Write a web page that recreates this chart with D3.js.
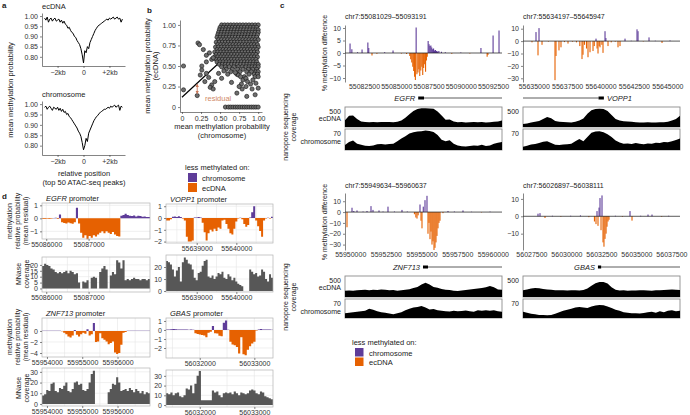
<!DOCTYPE html>
<html>
<head>
<meta charset="utf-8">
<script src="https://cdn.jsdelivr.net/npm/d3@7"></script>
<style>
  body { margin: 0; background: #fff; }
  svg { font-family: "Liberation Sans", Arial, sans-serif; font-size: 7px; }
</style>
</head>
<body>
<svg id="fig" width="690" height="415"></svg>
<script>
// ---------------- data ----------------

// a: mean methylation around top 50 ATAC peaks, 100 bp bins from -3 kb to +3 kb
const aBinStart = -3000, aBinStep = 100;
const aEcdna = [0.99,0.98,0.995,0.97,0.985,0.99,0.975,0.985,0.99,0.975,0.98,0.985,0.97,0.98,0.965,0.975,0.96,0.955,0.94,0.945,
  0.93,0.92,0.915,0.90,0.895,0.88,0.87,0.86,0.84,0.81,0.77,0.83,0.82,0.85,0.84,0.87,0.885,0.90,0.915,0.93,
  0.94,0.95,0.955,0.96,0.965,0.97,0.975,0.98,0.985,0.98,0.99,0.985,0.99,0.995,0.985,0.99,0.995,0.985,0.99,0.97,0.985];
const aChrom = [0.985,0.99,0.975,0.985,0.99,0.98,0.97,0.985,0.98,0.975,0.985,0.97,0.98,0.965,0.975,0.96,0.965,0.95,0.955,0.94,
  0.935,0.925,0.915,0.905,0.895,0.885,0.87,0.86,0.845,0.815,0.78,0.80,0.835,0.82,0.86,0.875,0.89,0.905,0.92,0.93,
  0.94,0.945,0.955,0.96,0.965,0.97,0.975,0.975,0.98,0.985,0.98,0.99,0.985,0.99,0.995,0.985,0.99,0.995,0.97,0.99,0.985];
const aXTicks = [-2000, 0, 2000];
const aXLabels = ['\u22122kb', '0', '+2kb'];
const aYTicks = [0.80, 0.85, 0.90, 0.95, 1.00];

// b: per-region mean methylation, chromosome (x) vs ecDNA (y)
const bCloudRows = [
  [1.00, [0.52,0.56,0.60,0.64,0.68,0.72,0.76,0.80,0.84,0.88,0.92,0.96,1.00]],
  [0.97, [0.50,0.54,0.58,0.62,0.66,0.70,0.74,0.78,0.82,0.86,0.90,0.94,0.98]],
  [0.94, [0.49,0.53,0.57,0.61,0.65,0.69,0.73,0.77,0.81,0.85,0.89,0.93,0.97,1.00]],
  [0.91, [0.48,0.52,0.56,0.60,0.64,0.68,0.72,0.76,0.80,0.84,0.88,0.92,0.96,1.00]],
  [0.88, [0.47,0.51,0.55,0.59,0.63,0.67,0.71,0.75,0.79,0.83,0.87,0.91,0.95,0.99]],
  [0.85, [0.46,0.50,0.54,0.58,0.62,0.66,0.70,0.74,0.78,0.82,0.86,0.90,0.94,0.98]],
  [0.82, [0.48,0.52,0.56,0.60,0.64,0.68,0.72,0.76,0.80,0.84,0.88,0.92,0.96,1.00]],
  [0.79, [0.45,0.49,0.53,0.57,0.61,0.65,0.69,0.73,0.77,0.81,0.85,0.89,0.93,0.97]],
  [0.76, [0.47,0.51,0.55,0.59,0.63,0.67,0.71,0.75,0.79,0.83,0.87,0.91,0.95,0.99]],
  [0.73, [0.44,0.48,0.52,0.56,0.60,0.64,0.68,0.72,0.76,0.80,0.84,0.88,0.92,0.96,1.00]],
  [0.70, [0.46,0.50,0.54,0.58,0.62,0.66,0.70,0.74,0.78,0.82,0.86,0.90,0.94,0.98]],
  [0.67, [0.43,0.47,0.51,0.55,0.59,0.63,0.67,0.71,0.75,0.79,0.83,0.87,0.91,0.95,0.99]],
  [0.64, [0.45,0.49,0.53,0.57,0.61,0.65,0.69,0.73,0.77,0.81,0.85,0.89,0.93,0.97]],
  [0.61, [0.43,0.47,0.51,0.55,0.59,0.63,0.67,0.71,0.75,0.79,0.83,0.87,0.91,0.95,0.99]],
  [0.58, [0.45,0.49,0.53,0.57,0.61,0.65,0.69,0.73,0.77,0.81,0.85,0.89,0.93,0.97]],
  [0.55, [0.46,0.50,0.54,0.58,0.62,0.66,0.70,0.74,0.78,0.82,0.86,0.90,0.94,0.98]],
  [0.52, [0.49,0.53,0.57,0.61,0.65,0.69,0.73,0.77,0.81,0.85,0.89,0.93,0.97,1.00]],
  [0.49, [0.52,0.57,0.62,0.68,0.74,0.79,0.84,0.88,0.92,0.96,1.00]],
  [0.46, [0.58,0.66,0.73,0.80,0.87,0.93,0.98]],
  [0.43, [0.64,0.76,0.85,0.91,0.97,1.00]],
  [0.40, [0.72,0.88,0.95,0.99]],
  [0.37, [0.82,0.96,1.00]]
];
const bScatter = [[0.02,0.50],[0.02,0.21],[0.20,0.14],[0.21,0.78],[0.23,0.76],[0.28,0.70],[0.32,0.63],[0.32,0.55],
  [0.26,0.50],[0.26,0.45],[0.32,0.41],[0.24,0.39],[0.35,0.36],[0.30,0.31],[0.39,0.27],[0.37,0.24],[0.41,0.22],
  [0.43,0.31],[0.48,0.41],[0.39,0.58],[0.41,0.60],[0.36,0.66],[0.65,0.30],[0.74,0.39],[0.77,0.37],[0.80,0.33],
  [0.84,0.35],[0.78,0.28],[0.86,0.31],[0.84,0.25],[0.90,0.28],[0.92,0.22],[0.79,0.22],[0.75,0.25],[0.72,0.17],
  [0.85,0.13],[0.96,0.15],[1.00,0.23],[0.93,0.33],[0.97,0.29],[0.60,0.40],[0.55,0.44],[0.70,0.42],[0.52,0.35],
  [0.57,0],[0.61,0],[0.64,0],[0.67,0],[0.70,0],[0.73,0],[0.76,0],[0.79,0],[0.82,0],[0.85,0],[0.88,0],[0.91,0],
  [0.94,0],[0.97,0],[1.00,0]];
const bFit = [[0, 0.12], [1, 0.98]];
const bResidual = { x: 0.20, observed: 0.14, fitted: 0.29 };
const bTicks = [0, 0.25, 0.50, 0.75, 1.00];

// c: % methylation difference tracks and nanopore coverage
const cTitles = ['chr7:55081029\u201355093191', 'chr7:55634197\u201355645947', 'chr7:55949634\u201355960637', 'chr7:56026897\u201356038111'];
const cStart = [55081029, 55634197, 55949634, 56026897];
const cEnd = [55093191, 55645947, 55960637, 56038111];
const cXTicks = [
  [55082500, 55085000, 55087500, 55090000, 55092500],
  [55635000, 55637500, 55640000, 55642500, 55645000],
  [55950000, 55952500, 55955000, 55957500, 55960000],
  [56027500, 56030000, 56032500, 56035000, 56037500]];
const cYTicks = [[-10,-5,0,5,10], [-30,-20,-10,0,10], [-30,-20,-10,0,10], [-10,0,10]];
const cYDomain = [[-11.6, 11.2], [-33, 13], [-35, 17.6], [-19.4, 13.4]];
const cGenes = ['EGFR', 'VOPP1', 'ZNF713', 'GBAS'];
const cGeneTss = [[55086700, 55087150], [55639850, 55640250], [55955100, 55955450], [56032250, 56032480]];
const cGeneBodyRight = [true, false, true, true];

const cMethEGFR = [[55081420,3.8],[55081560,1.5],[55082000,0.3],[55082350,1.4],[55082800,4.2],[55082870,2],[55083120,-1.0],
  [55083500,-0.3],[55084100,0.3],[55084750,1.0],[55085400,-0.2],[55085800,-0.4],[55086050,-1.2],[55086120,-2.5],
  [55086200,-3.8],[55086280,-5.5],[55086350,-7.2],[55086420,-9.5],[55086480,-10.8],[55086540,10.2],[55086600,-8.5],
  [55086680,-7.8],[55086750,-6.5],[55086820,-9.2],[55086900,-7.0],[55086980,-5.5],[55087050,-8.8],[55087120,-6.0],
  [55087200,-4.5],[55087270,-7.5],[55087340,-3.0],[55087400,-1.5],[55087470,4.8],[55087540,3.5],[55087610,2.8],
  [55087680,3.0],[55087750,2.2],[55087820,1.5],[55087890,1.8],[55087960,1.0],[55088040,1.2],[55088120,0.8],
  [55088200,0.6],[55088300,0.8],[55088500,0.5],[55088800,0.3],[55089300,-0.3],[55090000,0.2],[55090700,-0.2],
  [55091560,2.0],[55092040,-1.5],[55092100,-0.8],[55092500,7.0],[55092960,9.0]];
const cMethVOPP1 = [[55634870,-1.0],[55635170,7.3],[55635320,-11.5],[55635395,10.5],[55635620,-3.0],[55636100,-0.4],
  [55636592,-31.5],[55636667,-12.0],[55636890,-7.5],[55637040,-5.0],[55637300,-0.8],[55637565,-2.0],[55637900,-0.5],
  [55638200,-1.0],[55638450,-4],[55638613,-14.5],[55638688,-11.0],[55638800,-3],[55638950,-6],[55639062,-13.0],
  [55639212,-9.0],[55639437,-8.0],[55639530,-4],[55639661,2.0],[55639740,-6.0],[55639811,-10.0],[55639900,-4],
  [55639960,-5.0],[55640100,-3],[55640185,-9.5],[55640335,8.0],[55640400,2.5],[55640559,-4.0],[55640800,-1.0],
  [55641100,-0.5],[55641308,-5.0],[55641457,-4.0],[55641832,2.0],[55642300,0.3],[55642730,9.5],[55642805,8.0],
  [55643200,-0.3],[55643628,3.0],[55644100,0.3],[55644601,-1.5],[55645200,0.5]];
const cMethZNF713 = [[55949774,-14],[55950125,4],[55950250,1],[55950475,1.5],[55950900,0.5],[55951176,1],[55951456,5.5],
  [55951596,2],[55952017,1.5],[55952300,0.5],[55952647,5],[55953100,0.5],[55953628,2],[55954000,0.5],[55954500,-2],
  [55954600,-5],[55954680,-6],[55954760,-3],[55954890,7],[55954960,-8],[55955030,-15],[55955120,5],[55955240,11],
  [55955380,15],[55955450,-20],[55955520,-10],[55955591,-25],[55955660,-18],[55955731,-30],[55955800,-27],
  [55955871,-35],[55955941,-33],[55956011,-28],[55956080,-22],[55956151,-15],[55956220,-10],[55956291,-8],
  [55956500,-1],[55956852,1],[55957300,0.5],[55957903,1.5],[55958500,0.3],[55959200,-0.3],[55959800,0.4]];
const cMethGBAS = [[56027968,1.5],[56028111,1.8],[56028468,-1],[56029000,0.3],[56029600,-0.3],[56030300,0.3],[56031000,0.5],
  [56031600,-0.5],[56032000,-3],[56032111,-4.5],[56032183,3],[56032254,-5.5],[56032330,5],[56032397,10.5],
  [56032470,-8],[56032540,12],[56032611,-15],[56032680,-17.5],[56032754,-13],[56032830,-10],[56032897,-6],
  [56032970,-3],[56033040,-2],[56033500,0.3],[56034000,-0.3],[56034540,3],[56034683,-2.5],[56035300,0.3],
  [56035826,1],[56036111,1],[56036800,-0.3],[56037300,0.3]];

// coverage, 40 equal bins across each region
const cCovEcdnaEGFR = [170,280,285,200,140,125,120,125,118,122,128,122,120,130,160,230,320,400,450,470,
  470,465,455,390,290,180,190,140,120,125,115,118,122,120,128,115,120,130,140,160];
const cCovChromEGFR = [17,28,33,22,18,15,14,16,20,21,19,21,22,30,40,48,57,62,64,65,
  68,66,63,52,36,30,34,22,16,13,12,14,16,15,18,14,16,22,25,28];
const cCovEcdnaVOPP1 = [75,90,110,130,150,200,250,220,150,130,125,118,115,130,165,210,330,420,450,455,
  450,400,300,200,160,145,140,130,120,115,110,118,112,115,120,118,130,160,200,280];
const cCovChromVOPP1 = [11,15,19,21,24,29,30,24,18,17,19,20,22,30,38,30,45,60,64,65,
  62,55,45,33,26,22,23,21,24,22,20,23,22,25,24,28,27,30,35,40];
const cCovEcdnaZNF713 = [150,155,148,160,165,170,160,172,165,180,170,160,165,150,160,170,185,215,240,300,
  340,300,240,220,190,170,165,150,145,155,165,180,190,200,215,230,262,230,180,170];
const cCovChromZNF713 = [18,20,22,24,26,28,36,32,26,22,20,17,14,18,22,30,36,40,42,46,
  40,33,35,30,28,26,25,28,26,27,29,26,24,30,28,30,28,30,26,24];
const cCovEcdnaGBAS = [160,180,200,215,210,190,180,170,160,158,162,155,158,160,155,165,200,270,330,355,
  355,320,230,170,155,158,150,155,152,158,160,155,150,158,162,165,175,180,172,165];
const cCovChromGBAS = [24,20,16,14,12,12,11,12,16,22,28,32,36,40,42,40,38,44,48,50,
  49,44,38,32,28,22,20,18,18,17,19,22,24,20,26,22,28,30,26,28];
const cCovEcdnaMax = 500, cCovChromMax = 73;

// d: promoter methylation residuals and MNase coverage, equal bins
const dGenes = ['EGFR', 'VOPP1', 'ZNF713', 'GBAS'];
const dStart = [55085900, 55638225, 55953860, 56031382];
const dStep = [50, 50, 60, 40];
const dMethEGFR = [-0.05,-0.05,-0.04,-0.05,-0.03,0.03,0.04,-0.05,0.3,-0.3,-0.35,-0.4,-0.32,-0.38,-0.42,-0.3,0.82,-0.4,
  -1.1,-1.5,-1.3,-1.6,-1.35,-1.5,-1.3,-1.4,-1.25,-1.1,-1.0,-1.15,-1.0,-1.1,-1.2,-1.05,-1.25,-1.35,-1.4,
  0.2,0.25,0.35,0.25,0.2,0.18,0.22,0.15,0.2,0.18,0.12,0.15,0.1,0.1];
const dMnaseEGFR = [19,21,20,19,17,16,14,13,14,13,14,15,13,15,14,12,13,5,0,6,5,7,0,9,10,9,0,14,17,19,16,0,11,14,12,
  24,22,17,24,7,8,7,8,9,8,8,7,8,8,7,8];
const dMethVOPP1 = [-0.2,-0.2,-0.1,0.1,0.12,0.08,0.15,0.08,-0.05,-0.2,-1.6,-2.0,-2.0,-1.9,0.05,0.05,0.08,0.04,-0.4,
  -1.2,-1.9,-1.3,-1.0,-1.15,-0.9,-1.1,-0.8,-0.9,-0.2,-0.15,-0.5,-0.9,-1.3,-1.4,-0.9,-0.3,-0.05,0.03,-0.1,-0.5,
  -0.75,-0.6,0.05,0.5,1.0,-0.2,-0.7,-1.1,-1.6,-0.2,-0.05,0.03,-0.05,0.1];
const dMnaseVOPP1 = [25,24,22,18,12,17,20,8,24,28,26,23,22,18,11,9,15,16,21,25,26,12,11,13,10,12,15,14,16,11,10,14,
  12,9,11,8,6,5,4,0,0,0,18,16,14,15,12,13,18,16,10,8,14,11];
const dMethZNF713 = [0.03,0.04,0.02,0.05,0.03,0.04,0.02,0.05,0.03,-0.05,-0.3,-0.6,-1.0,-1.2,-0.8,0.2,-0.7,-1.0,-0.6,
  -0.3,-0.5,0.3,-0.8,-0.6,1.45,-2.0,-1.9,-0.4,-1.3,-1.6,-1.9,-2.4,-2.2,-1.9,-3.9,-4.2,-4.0,-2.5,-0.3,-0.2,
  0.03,0.05,0.03,0.04,0.02,0.05,0.03,0.04,0.02,0.05,0.03];
const dMnaseZNF713 = [8,9,13,12,19,20,12,11,15,14,17,20,12,11,14,20,21,18,19,13,12,14,20,28,31,0,0,0,0,0,0,11,14,19,18,
  25,20,12,13,14,12,15,13,11,14,12,10,12,9,11,10];
const dMethGBAS = [0.05,0.06,0.08,0.1,0.07,0.05,0.06,0.04,0.05,0.06,0.03,0.04,0.02,-0.35,-0.45,-0.5,-0.55,-0.6,-0.8,
  -0.3,-0.2,0.45,-0.35,-0.4,-0.65,-0.7,0.8,1.05,0.02,-1.3,-1.6,-1.7,-1.9,-2.6,-0.8,-2.7,-2.8,-2.2,-1.8,-1.5,
  -1.3,-0.05,0.04,0.1,0.06,0.05,0.04,0.05,0.03];
const dMnaseGBAS = [12,11,13,10,12,13,9,8,10,17,16,20,12,22,30,35,5,5,5,5,5,15,13,14,10,8,12,13,12,13,11,14,12,10,13,
  12,11,12,15,16,15,12,11,14,13,9,8,7,6];
const dXTicks = [[55086000, 55087000], [55639000, 55640000], [55954000, 55955000, 55956000], [56032000, 56033000]];
const dMethYTicks = [[-1, 0, 1], [-2, -1, 0, 1], [-4, -2, 0], [-2, -1, 0, 1]];
const dMethYDomain = [[-1.59, 1.18], [-2.12, 1.19], [-4.73, 2.36], [-3.11, 1.33]];
const dMnaseYTicks = [[0, 5, 10, 15, 20], [0, 10, 20], [0, 10, 20, 30], [0, 10, 20, 30]];
const dMnaseYDomain = [[-3, 26.7], [-0.8, 30], [-1.9, 33.6], [-2, 36]];

const PURPLE = '#5e3c99', ORANGE = '#e66101';

// ---------------- drawing ----------------
const svg = d3.select('#fig');

function styleAxis(g) {
  g.attr('font-size', null).attr('font-family', null);
  g.select('.domain').attr('stroke', '#333').attr('stroke-width', 0.6);
  g.selectAll('.tick line').attr('stroke', '#333').attr('stroke-width', 0.6);
  g.selectAll('.tick text').attr('fill', '#333');
}

function label(x, y, s, o) {
  o = o || {};
  const t = svg.append('text').attr('fill', o.fill || '#222')
    .attr('text-anchor', o.anchor || 'start')
    .style('font-size', (o.size || 7) + 'px')
    .text(s);
  if (o.weight) t.style('font-weight', o.weight);
  if (o.italic) t.style('font-style', 'italic');
  if (o.rotate) t.attr('transform', `translate(${x},${y}) rotate(-90)`);
  else t.attr('x', x).attr('y', y);
  return t;
}

// panel letters
label(2, 8, 'a', { size: 8, weight: 'bold' });
label(147, 13, 'b', { size: 8, weight: 'bold' });
label(280, 8, 'c', { size: 8, weight: 'bold' });
label(2, 199, 'd', { size: 8, weight: 'bold' });

// ---- a ----
function profilePlot(vals, top, bottom, title) {
  const x = d3.scaleLinear().domain([-3200, 3200]).range([42, 125]);
  const y = d3.scaleLinear().domain([0.755, 1.015]).range([bottom, top]);
  const pts = vals.map((v, i) => [aBinStart + i * aBinStep, v]);
  svg.append('path').datum(pts)
    .attr('d', d3.line().x(d => x(d[0])).y(d => y(d[1])))
    .attr('fill', 'none').attr('stroke', '#000').attr('stroke-width', 1);
  svg.append('g').attr('transform', 'translate(42,0)')
    .call(d3.axisLeft(y).tickValues(aYTicks).tickFormat(d3.format('.2f')).tickSize(2).tickSizeOuter(0).tickPadding(2))
    .call(styleAxis);
  svg.append('g').attr('transform', `translate(0,${bottom})`)
    .call(d3.axisBottom(x).tickValues(aXTicks).tickFormat((d, i) => aXLabels[i]).tickSize(2).tickSizeOuter(0).tickPadding(2))
    .call(styleAxis);
  label(42, top - 4, title, { size: 7.5 });
}
profilePlot(aEcdna, 13, 66, 'ecDNA');
profilePlot(aChrom, 101, 155, 'chromosome');
label(13, 90, 'mean methylation probability', { rotate: true, anchor: 'middle', size: 7.5 });
label(84, 176, 'relative position', { anchor: 'middle', size: 7.5 });
label(84, 185, '(top 50 ATAC-seq peaks)', { anchor: 'middle', size: 7.5 });

// ---- b ----
{
  const x = d3.scaleLinear().domain([-0.026, 1.05]).range([180, 262]);
  const y = d3.scaleLinear().domain([-0.06, 1.06]).range([112, 20]);
  svg.append('line')
    .attr('x1', x(bFit[0][0])).attr('y1', y(bFit[0][1]))
    .attr('x2', x(bFit[1][0])).attr('y2', y(bFit[1][1]))
    .attr('stroke', '#000').attr('stroke-width', 1.2);
  const pts = [];
  bCloudRows.forEach(r => r[1].forEach(v => pts.push([v, r[0]])));
  bScatter.forEach(p => pts.push(p));
  svg.append('g').selectAll('circle').data(pts).join('circle')
    .attr('cx', d => x(d[0])).attr('cy', d => y(d[1])).attr('r', 2.1)
    .attr('fill', '#6e6e6e').attr('stroke', '#111').attr('stroke-width', 0.6);
  // residual arrow
  const defs = svg.append('defs');
  defs.append('marker').attr('id', 'resArrow').attr('viewBox', '0 0 6 6').attr('refX', 5).attr('refY', 3)
    .attr('markerWidth', 4).attr('markerHeight', 4).attr('orient', 'auto-start-reverse')
    .append('path').attr('d', 'M0,0 L6,3 L0,6 Z').attr('fill', '#c9785a');
  svg.append('line')
    .attr('x1', x(bResidual.x)).attr('x2', x(bResidual.x))
    .attr('y1', y(bResidual.fitted) + 1).attr('y2', y(bResidual.observed) - 2)
    .attr('stroke', '#c9785a').attr('stroke-width', 0.9)
    .attr('marker-start', 'url(#resArrow)').attr('marker-end', 'url(#resArrow)');
  label(205, 101, 'residual', { fill: '#d08a68', size: 7.5 });
  svg.append('g').attr('transform', 'translate(180,0)')
    .call(d3.axisLeft(y).tickValues(bTicks).tickFormat(d => d === 0 ? '0' : d3.format('.2f')(d)).tickSize(2).tickSizeOuter(0).tickPadding(2))
    .call(styleAxis);
  svg.append('g').attr('transform', 'translate(0,112)')
    .call(d3.axisBottom(x).tickValues(bTicks).tickFormat(d => d === 0 ? '0' : d3.format('.2f')(d)).tickSize(2).tickSizeOuter(0).tickPadding(2))
    .call(styleAxis);
  label(222, 129, 'mean methylation probability', { anchor: 'middle', size: 7.5 });
  label(222, 138, '(chromosome)', { anchor: 'middle', size: 7.5 });
  label(150, 66, 'mean methylation probability', { rotate: true, anchor: 'middle', size: 7.5 });
  label(158, 66, '(ecDNA)', { rotate: true, anchor: 'middle', size: 7.5 });
}

// legend helper
function legend(x, y, size) {
  label(x, y, 'less methylated on:', { size: 7.5 });
  svg.append('rect').attr('x', x + 3).attr('y', y + 3).attr('width', size).attr('height', size).attr('fill', PURPLE);
  label(x + 17, y + 10.5, 'chromosome', { size: 7.5 });
  svg.append('rect').attr('x', x + 3).attr('y', y + 4 + size).attr('width', size).attr('height', size).attr('fill', ORANGE);
  label(x + 17, y + 11.5 + size, 'ecDNA', { size: 7.5 });
}
legend(185, 170, 9);
legend(352, 345, 8.5);

// ---- c ----
const cMeth = [cMethEGFR, cMethVOPP1, cMethZNF713, cMethGBAS];
const cCovE = [cCovEcdnaEGFR, cCovEcdnaVOPP1, cCovEcdnaZNF713, cCovEcdnaGBAS];
const cCovC = [cCovChromEGFR, cCovChromVOPP1, cCovChromZNF713, cCovChromGBAS];
const cCols = [[345, 502], [523, 680]];
const cRows = [
  { title: 19, meth: [25, 82], tickY: 91, gene: 98, ecd: [107, 127], chr: [129, 150] },
  { title: 188, meth: [193, 250], tickY: 259, gene: 267, ecd: [276, 297], chr: [299, 318] }];

function coverageBox(vals, i, yr, ymax, x0, x1, x) {
  svg.append('rect').attr('x', x0).attr('y', yr[0]).attr('width', x1 - x0).attr('height', yr[1] - yr[0])
    .attr('fill', '#fff').attr('stroke', '#8c8c8c').attr('stroke-width', 0.9);
  const y = d3.scaleLinear().domain([0, ymax]).range([yr[1], yr[0]]);
  const step = (cEnd[i] - cStart[i]) / (vals.length - 1);
  const pts = vals.map((v, k) => [cStart[i] + k * step, v]);
  svg.append('path').datum(pts)
    .attr('d', d3.area().x(d => x(d[0])).y0(yr[1]).y1(d => y(d[1])))
    .attr('fill', '#000');
}

for (let i = 0; i < 4; i++) {
  const [x0, x1] = cCols[i % 2];
  const r = cRows[i < 2 ? 0 : 1];
  const x = d3.scaleLinear().domain([cStart[i], cEnd[i]]).range([x0, x1]);
  const y = d3.scaleLinear().domain(cYDomain[i]).range([r.meth[1], r.meth[0]]);
  svg.append('g').selectAll('rect').data(cMeth[i]).join('rect')
    .attr('x', d => x(d[0]) - 0.55).attr('width', 1.1)
    .attr('y', d => Math.min(y(0), y(d[1]))).attr('height', d => Math.abs(y(d[1]) - y(0)))
    .attr('fill', d => d[1] > 0 ? PURPLE : ORANGE);
  svg.append('line').attr('x1', x0).attr('x2', x1).attr('y1', y(0)).attr('y2', y(0))
    .attr('stroke', '#111').attr('stroke-width', 0.7);
  svg.append('g').attr('transform', `translate(${x0},0)`)
    .call(d3.axisLeft(y).tickValues(cYTicks[i]).tickFormat(d => d < 0 ? '\u2212' + (-d) : d).tickSize(2).tickSizeOuter(0).tickPadding(2))
    .call(styleAxis);
  const xa = svg.append('g').attr('transform', `translate(0,${r.tickY - 7})`)
    .call(d3.axisBottom(x).tickValues(cXTicks[i]).tickFormat(d3.format('d')).tickSize(0).tickPadding(0))
    .call(styleAxis);
  xa.select('.domain').remove();
  label(x0, r.title, cTitles[i]);

  // gene model
  const g0 = x(cGeneTss[i][0]), g1 = x(cGeneTss[i][1]);
  const gy = r.gene;
  if (cGeneBodyRight[i]) {
    svg.append('line').attr('x1', g1).attr('x2', x1).attr('y1', gy).attr('y2', gy).attr('stroke', '#333').attr('stroke-width', 0.8);
    label(g0 - 3, gy + 2.5, cGenes[i], { anchor: 'end', italic: true, size: 7.5 });
  } else {
    svg.append('line').attr('x1', x0).attr('x2', g0).attr('y1', gy).attr('y2', gy).attr('stroke', '#333').attr('stroke-width', 0.8);
    label(g1 + 3, gy + 2.5, cGenes[i], { italic: true, size: 7.5 });
  }
  svg.append('rect').attr('x', g0).attr('y', gy - 1.5).attr('width', g1 - g0).attr('height', 3).attr('fill', '#000');

  coverageBox(cCovE[i], i, r.ecd, cCovEcdnaMax, x0, x1, x);
  coverageBox(cCovC[i], i, r.chr, cCovChromMax, x0, x1, x);
  label(x0 - 4, r.ecd[0] + 6.5, String(cCovEcdnaMax), { anchor: 'end' });
  label(x0 - 4, r.chr[0] + 6.5, '70', { anchor: 'end' });
  if (i % 2 === 0) {
    label(x0 - 4, r.ecd[0] + 14, 'ecDNA', { anchor: 'end' });
    label(x0 - 4, r.chr[0] + 15, 'chromosome', { anchor: 'end' });
  }
}
label(327, 53, '% methylation difference', { rotate: true, anchor: 'middle' });
label(327, 222, '% methylation difference', { rotate: true, anchor: 'middle' });
[127, 297].forEach(cy => {
  label(287.5, cy, 'nanopore sequencing', { rotate: true, anchor: 'middle' });
  label(295.5, cy, 'coverage', { rotate: true, anchor: 'middle' });
});

// ---- d ----
const dMeth = [dMethEGFR, dMethVOPP1, dMethZNF713, dMethGBAS];
const dMnase = [dMnaseEGFR, dMnaseVOPP1, dMnaseZNF713, dMnaseGBAS];
const dMethBox = [[42, 150, 203, 239], [166, 273, 204, 243], [42, 150, 318, 357], [166, 273, 318, 358]];
const dMnaseBox = [[42, 150, 257, 292], [166, 273, 255, 292], [42, 150, 368, 406], [166, 273, 370, 407]];

function promoterPanel(i, box, vals, domainY, ticksY, isMeth) {
  const [bx0, bx1, by0, by1] = box;
  const n = vals.length;
  const x = d3.scaleLinear().domain([dStart[i], dStart[i] + n * dStep[i]]).range([bx0, bx1]);
  const y = d3.scaleLinear().domain(domainY).range([by1, by0]);
  const g = svg.append('g');
  // grid
  const xt = dXTicks[i];
  const minor = xt.map(t => t - 500).concat([xt[xt.length - 1] + 500]);
  xt.concat(minor).forEach(t => {
    if (x(t) > bx0 && x(t) < bx1)
      g.append('line').attr('x1', x(t)).attr('x2', x(t)).attr('y1', by0).attr('y2', by1)
        .attr('stroke', '#e6e6e6').attr('stroke-width', 0.6);
  });
  ticksY.forEach(t => g.append('line').attr('x1', bx0).attr('x2', bx1).attr('y1', y(t)).attr('y2', y(t))
    .attr('stroke', '#e6e6e6').attr('stroke-width', 0.6));
  // step areas: one bin per value, closed at the right end
  const pts = vals.map((v, k) => [dStart[i] + k * dStep[i], v]);
  pts.push([dStart[i] + n * dStep[i], vals[n - 1]]);
  const area = fn => d3.area().curve(d3.curveStepAfter)
    .x(d => x(d[0])).y0(y(0)).y1(d => y(fn(d[1])));
  if (isMeth) {
    g.append('path').datum(pts).attr('d', area(v => Math.max(v, 0))).attr('fill', PURPLE);
    g.append('path').datum(pts).attr('d', area(v => Math.min(v, 0))).attr('fill', ORANGE);
  } else {
    g.append('path').datum(pts).attr('d', area(v => v)).attr('fill', '#575757');
  }
  g.append('rect').attr('x', bx0).attr('y', by0).attr('width', bx1 - bx0).attr('height', by1 - by0)
    .attr('fill', 'none').attr('stroke', '#b3b3b3').attr('stroke-width', 0.7);
  svg.append('g').attr('transform', `translate(${bx0},0)`)
    .call(d3.axisLeft(y).tickValues(ticksY).tickFormat(d => d < 0 ? '\u2212' + (-d) : d).tickSize(2).tickPadding(2))
    .call(styleAxis).select('.domain').remove();
  svg.append('g').attr('transform', `translate(0,${by1})`)
    .call(d3.axisBottom(x).tickValues(xt).tickFormat(d3.format('d')).tickSize(2).tickPadding(1.5))
    .call(styleAxis).select('.domain').remove();
}

for (let i = 0; i < 4; i++) {
  promoterPanel(i, dMethBox[i], dMeth[i], dMethYDomain[i], dMethYTicks[i], true);
  promoterPanel(i, dMnaseBox[i], dMnase[i], dMnaseYDomain[i], dMnaseYTicks[i], false);
  const t = svg.append('text').attr('x', dMethBox[i][0] + 4).attr('y', dMethBox[i][2] - 2.5)
    .style('font-size', '7.5px').attr('fill', '#222');
  t.append('tspan').style('font-style', 'italic').text(dGenes[i]);
  t.append('tspan').text(' promoter');
}
[[221, 274], [337, 388]].forEach(([my, ny]) => {
  label(11.5, my, 'methylation', { rotate: true, anchor: 'middle' });
  label(19.5, my, 'relative probability', { rotate: true, anchor: 'middle' });
  label(27.5, my, '(mean residual)', { rotate: true, anchor: 'middle' });
  label(20.5, ny, 'MNase', { rotate: true, anchor: 'middle' });
  label(28.5, ny, 'coverage', { rotate: true, anchor: 'middle' });
});
</script>
</body>
</html>
